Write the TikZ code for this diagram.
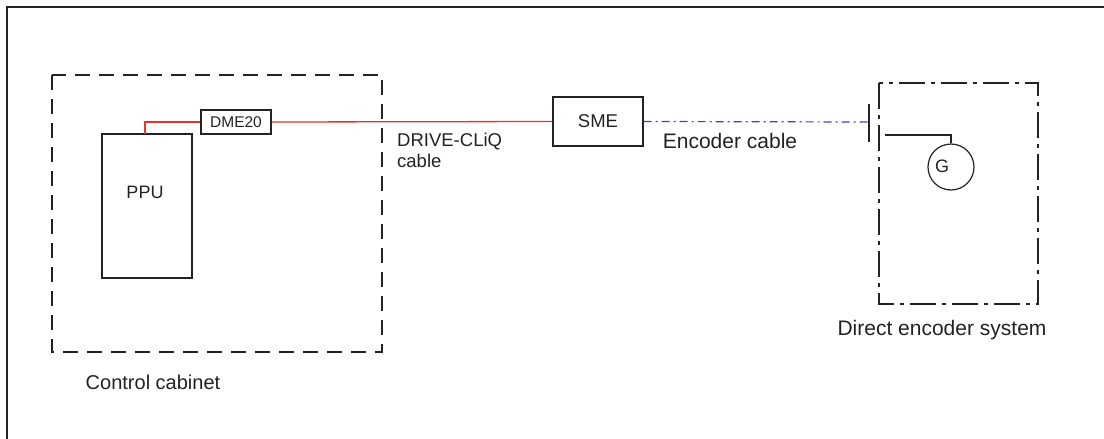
\documentclass[tikz,border=0pt]{standalone}
\usepackage{fontspec}
\setmainfont{Liberation Sans}
\definecolor{ink}{HTML}{222222}
\definecolor{cablered}{HTML}{E8322A}
\definecolor{encblue}{HTML}{4A3FB0}
\begin{document}
\begin{tikzpicture}[x=1pt,y=-1pt,
  box/.style={draw=ink,line width=1.3pt,inner sep=0pt},
  lbl/.style={text=ink,inner sep=0pt},
  cab/.style={draw=ink,line width=1.8pt,dash pattern=on 15pt off 9pt},
  encbox/.style={draw=ink,line width=1.3pt,dash pattern=on 26pt off 6pt on 4pt off 6pt},
  redline/.style={draw=cablered,line width=1.3pt},
  blueline/.style={draw=encblue,line width=1.2pt,dash pattern=on 8pt off 4pt on 2pt off 4pt},
  thin/.style={draw=ink,line width=1.2pt}]
\useasboundingbox (0,0) rectangle (1104,439);
% partial outer frame
\draw[ink,line width=1.3pt] (7,439) -- (7,7) -- (1104,7);
% control cabinet
\draw[cab] (52,75) rectangle (382,352);
\node[lbl,font=\fontsize{20}{24}\selectfont] (cablbl) at (153,382) {Control cabinet};
% PPU
\node[box,minimum width=90pt,minimum height=144pt] (ppu) at (147,206) {};
\node[lbl,font=\fontsize{18}{22}\selectfont] (ppulbl) at (145,192) {PPU};
% DME20
\node[box,minimum width=70pt,minimum height=24pt,font=\fontsize{15.5}{18}\selectfont,text=ink] (dme) at (236,122) {DME20};
% SME
\node[box,minimum width=90pt,minimum height=49pt,font=\fontsize{18.5}{22}\selectfont,text=ink] (sme) at (598,121.5) {SME};
% red cables
\coordinate (ppuconn) at (145,134);
\draw[redline] (ppuconn) |- (dme.west);
\draw[redline] (dme.east) -- (sme.west);
\node[lbl,font=\fontsize{18.5}{22}\selectfont,align=left,anchor=north west] (dclbl) at (397,133) {DRIVE-CLiQ\\[-1pt]cable};
% encoder system
\draw[encbox] (879,83) rectangle (1038,304);
\node[lbl,font=\fontsize{21}{24}\selectfont] (deslbl) at (942,330) {Direct encoder system};
\coordinate (bartop) at (869,104);
\coordinate (barbot) at (869,142);
\draw[thin] (bartop) -- (barbot);
\coordinate (barmid) at (869,122);
\draw[blueline] (sme.east) -- (barmid);
\node[lbl,font=\fontsize{21}{24}\selectfont] (enclbl) at (730,141) {Encoder cable};
% G
\node[draw=ink,line width=1.2pt,circle,minimum size=46pt,inner sep=0pt] (g) at (951,167) {};
\node[lbl,font=\fontsize{18}{22}\selectfont] (glbl) at (942,166) {G};
\coordinate (gwire) at (885,135);
\draw[thin] (gwire) -| (g.north);
\end{tikzpicture}
\end{document}
